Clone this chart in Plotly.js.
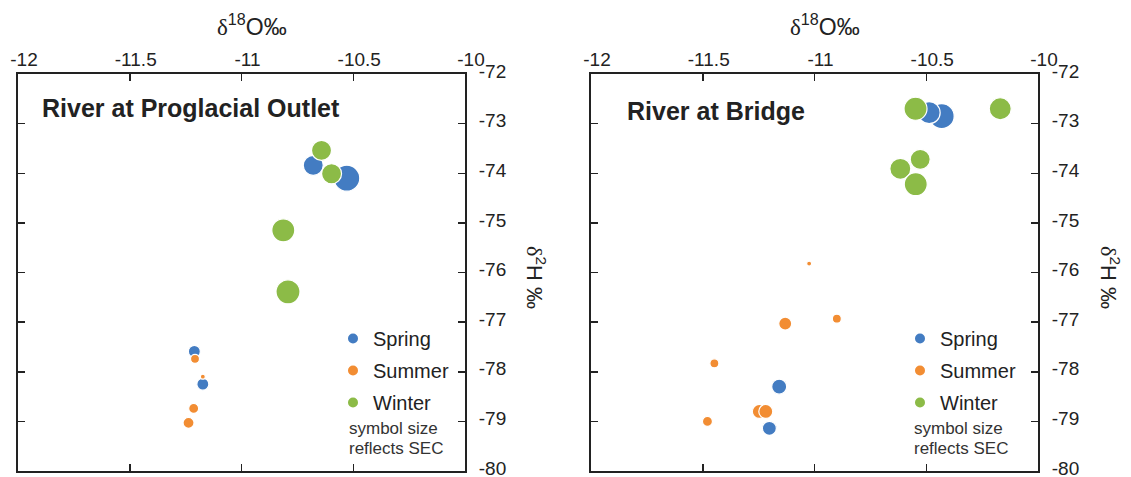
<!DOCTYPE html>
<html>
<head>
<meta charset="utf-8">
<script src="https://cdn.plot.ly/plotly-3.0.1.min.js"></script>
<style>html,body{margin:0;padding:0;background:#fff;}#chart{width:1131px;height:477px;}</style>
</head>
<body>
<div id="chart"></div>
<script>
// ---- data: River at Proglacial Outlet ----
const springX_L = [-10.679, -10.529, -11.211, -11.173];
const springY_L = [-73.84, -74.10, -77.59, -78.25];
const springS_L = [20, 26, 12, 12];
const summerX_L = [-11.208, -11.173, -11.214, -11.237];
const summerY_L = [-77.74, -78.10, -78.74, -79.03];
const summerS_L = [9, 5, 10, 11];
const winterX_L = [-10.642, -10.597, -10.813, -10.792];
const winterY_L = [-73.54, -74.01, -75.15, -76.39];
const winterS_L = [20, 20, 23, 24];

// ---- data: River at Bridge ----
const springX_R = [-10.431, -10.487, -11.158, -11.202];
const springY_R = [-72.85, -72.78, -78.30, -79.14];
const springS_R = [25, 22, 15, 14];
const summerX_R = [-11.024, -11.131, -10.900, -11.448, -11.247, -11.218, -11.479];
const summerY_R = [-75.82, -77.03, -76.93, -77.83, -78.80, -78.80, -79.00];
const summerS_R = [5, 13, 9, 9, 14, 14, 10];
const winterX_R = [-10.548, -10.169, -10.527, -10.616, -10.547];
const winterY_R = [-72.70, -72.70, -73.72, -73.91, -74.22];
const winterS_R = [23, 22, 20, 21, 23];

// ---- labels ----
const seasons = ['Spring', 'Summer', 'Winter'];
const panelTitles = ['River at Proglacial Outlet', 'River at Bridge'];
const xTickVals = [-12, -11.5, -11, -10.5, -10];
const xTickText = ['-12', '-11.5', '-11', '-10.5', '-10'];
const yTickVals = [-80, -79, -78, -77, -76, -75, -74, -73, -72];
const yTickText = ['-80', '-79', '-78', '-77', '-76', '-75', '-74', '-73', '-72'];
const xTitle = '<span style="font-family:\'Liberation Serif\',serif">δ</span><sup>18</sup>O‰';
const yTitle = '<span style="font-family:\'Liberation Serif\',serif">δ</span><sup>2</sup>H ‰';
const noteLines = ['symbol size', 'reflects SEC'];

const colors = {Spring: '#437cc2', Summer: '#f28d33', Winter: '#8cbb47'};
const W = 1131, H = 477;
const px = v => v / W, py = v => 1 - v / H;
const FONT = 'Liberation Sans, Arial, sans-serif';

function pts(x, y, s, season, xa, ya) {
  return {
    type: 'scatter', mode: 'markers', x: x, y: y, xaxis: xa, yaxis: ya,
    showlegend: false, hoverinfo: 'x+y',
    marker: {size: s, color: colors[season], line: {color: '#ffffff', width: 1.2}, opacity: 1}
  };
}
function proxy(season, legendId, xa, ya) {
  return {
    type: 'scatter', mode: 'markers', x: [null], y: [null], xaxis: xa, yaxis: ya,
    name: season, legend: legendId, legendgroup: legendId + season, showlegend: true,
    marker: {size: 10, color: colors[season]}
  };
}

const data = [
  pts(springX_L, springY_L, springS_L, 'Spring', 'x', 'y'),
  pts(summerX_L, summerY_L, summerS_L, 'Summer', 'x', 'y'),
  pts(winterX_L, winterY_L, winterS_L, 'Winter', 'x', 'y'),
  pts(springX_R, springY_R, springS_R, 'Spring', 'x2', 'y2'),
  pts(summerX_R, summerY_R, summerS_R, 'Summer', 'x2', 'y2'),
  pts(winterX_R, winterY_R, winterS_R, 'Winter', 'x2', 'y2')
];
seasons.forEach(s => data.push(proxy(s, 'legend', 'x', 'y')));
seasons.forEach(s => data.push(proxy(s, 'legend2', 'x2', 'y2')));

function xAxis(domain, anchor) {
  return {
    domain: domain, anchor: anchor, range: [-12, -10], side: 'top',
    tickmode: 'array', tickvals: xTickVals, ticktext: xTickText,
    ticks: 'inside', ticklen: 7, tickwidth: 1.5, tickcolor: '#222',
    showline: true, linewidth: 2, linecolor: '#222', mirror: 'ticks',
    showgrid: false, zeroline: false, fixedrange: true,
    tickfont: {family: FONT, size: 19, color: '#222'},
    ticklabelstandoff: -2, ticklabelshift: 6, ticklabeloverflow: 'allow'
  };
}
function yAxis(domain, anchor) {
  return {
    domain: domain, anchor: anchor, range: [-80, -72], side: 'right',
    tickmode: 'array', tickvals: yTickVals, ticktext: yTickText,
    ticks: 'inside', ticklen: 7, tickwidth: 1.5, tickcolor: '#222',
    showline: true, linewidth: 2, linecolor: '#222', mirror: 'ticks',
    showgrid: false, zeroline: false, fixedrange: true,
    tickfont: {family: FONT, size: 19, color: '#222'},
    ticklabelstandoff: 8, ticklabelshift: -3, ticklabeloverflow: 'allow'
  };
}
const yDom = [1 - 471 / H, 1 - 74 / H];

function legendCfg(xLeft) {
  return {
    x: px(xLeft), y: py(319), xanchor: 'left', yanchor: 'top',
    bgcolor: 'rgba(0,0,0,0)', borderwidth: 0, tracegroupgap: 3,
    font: {family: FONT, size: 20, color: '#222'},
    itemclick: false, itemdoubleclick: false
  };
}

const annotations = [];
function ann(text, x, y, opts) {
  annotations.push(Object.assign({
    xref: 'paper', yref: 'paper', x: px(x), y: py(y), text: text, showarrow: false,
    xanchor: 'left', yanchor: 'middle'
  }, opts));
}
ann(panelTitles[0], 40, 108, {font: {family: FONT, size: 25, color: '#222', weight: 'bold'}});
ann(panelTitles[1], 625, 111, {font: {family: FONT, size: 25, color: '#222', weight: 'bold'}});
ann(xTitle, 252, 25, {xanchor: 'center', font: {family: FONT, size: 23, color: '#222'}});
ann(xTitle, 825, 25, {xanchor: 'center', font: {family: FONT, size: 23, color: '#222'}});
ann(yTitle, 536, 277, {xanchor: 'center', textangle: 90, font: {family: FONT, size: 22, color: '#222'}});
ann(yTitle, 1110, 277, {xanchor: 'center', textangle: 90, font: {family: FONT, size: 22, color: '#222'}});
ann(noteLines[0], 347, 428, {font: {family: FONT, size: 17, color: '#333'}});
ann(noteLines[1], 347, 448, {font: {family: FONT, size: 17, color: '#333'}});
ann(noteLines[0], 912, 428, {font: {family: FONT, size: 17, color: '#333'}});
ann(noteLines[1], 912, 448, {font: {family: FONT, size: 17, color: '#333'}});

const layout = {
  width: W, height: H, margin: {l: 0, r: 0, t: 0, b: 0, pad: 0},
  paper_bgcolor: '#ffffff', plot_bgcolor: '#ffffff',
  showlegend: true,
  xaxis: xAxis([18 / W, 465 / W], 'y'),
  yaxis: yAxis(yDom, 'x'),
  xaxis2: xAxis([591 / W, 1038 / W], 'y2'),
  yaxis2: yAxis(yDom, 'x2'),
  legend: legendCfg(333),
  legend2: legendCfg(900),
  annotations: annotations,
  font: {family: FONT, color: '#222'}
};

Plotly.newPlot('chart', data, layout, {staticPlot: true, displayModeBar: false});
</script>
</body>
</html>
